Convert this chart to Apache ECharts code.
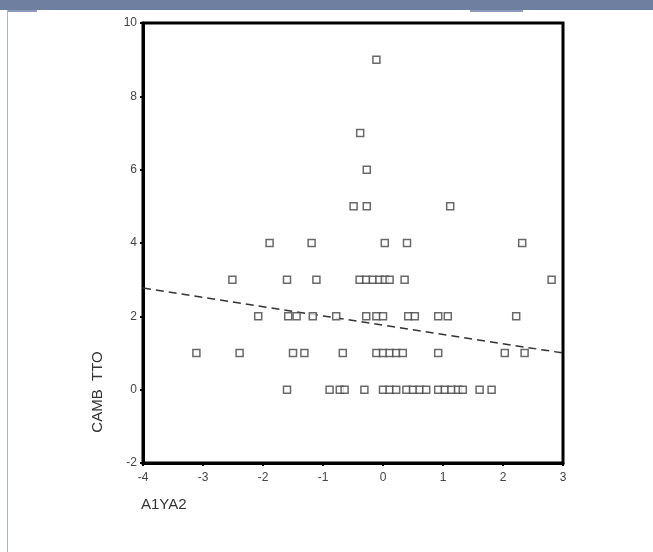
<!DOCTYPE html>
<html>
<head>
<meta charset="utf-8">
<script src="https://cdn.jsdelivr.net/npm/echarts@6/dist/echarts.min.js"></script>
<style>
  html, body { margin: 0; padding: 0; background: #fff; }
  #myChart { width: 653px; height: 552px; }
</style>
</head>
<body>
<div id="myChart"></div>
<script>
// x positions of the points, grouped by their (integer) CAMB TTO value
var xAtY0 = [-1.6, -0.89, -0.72, -0.64, -0.31, 0, 0.11, 0.22, 0.39, 0.5, 0.61, 0.72, 0.92, 1.03, 1.14, 1.25, 1.33, 1.61, 1.81];
var xAtY1 = [-3.11, -2.39, -1.5, -1.31, -0.67, -0.11, 0, 0.11, 0.22, 0.33, 0.92, 2.03, 2.36];
var xAtY2 = [-2.08, -1.58, -1.44, -1.17, -0.78, -0.28, -0.11, 0, 0.42, 0.53, 0.92, 1.08, 2.22];
var xAtY3 = [-2.51, -1.6, -1.11, -0.39, -0.28, -0.17, -0.06, 0.03, 0.11, 0.36, 2.81];
var xAtY4 = [-1.89, -1.19, 0.03, 0.4, 2.32];
var xAtY5 = [-0.49, -0.27, 1.12];
var xAtY6 = [-0.27];
var xAtY7 = [-0.38];
var xAtY9 = [-0.11];

// fitted line, read at both ends of the x axis
var fitX = [-4, 3];
var fitY = [2.77, 1.0];

var xTicks = [-4, -3, -2, -1, 0, 1, 2, 3];
var yTicks = [-2, 0, 2, 4, 6, 8, 10];

(function () {
    var rows = [[0, xAtY0], [1, xAtY1], [2, xAtY2], [3, xAtY3], [4, xAtY4],
                [5, xAtY5], [6, xAtY6], [7, xAtY7], [9, xAtY9]];
    var points = [];
    rows.forEach(function (r) {
        r[1].forEach(function (x) { points.push([x, r[0]]); });
    });

    var myChart = echarts.init(document.getElementById('myChart'), null, {renderer: 'canvas'});
    var axisFont = {fontFamily: 'Liberation Sans, Arial, sans-serif', fontSize: 12, color: '#444'};

    var option = {
        animation: false,
        backgroundColor: '#fff',
        grid: {
            left: 143, top: 23, width: 420, height: 440,
            show: true, borderColor: '#000', borderWidth: 3
        },
        xAxis: {
            type: 'value', min: xTicks[0], max: xTicks[xTicks.length - 1], interval: 1,
            splitLine: {show: false},
            axisLine: {show: true, onZero: false, lineStyle: {color: '#000', width: 3}},
            axisTick: {show: true, length: 3, lineStyle: {color: '#000', width: 2}},
            axisLabel: Object.assign({margin: 9}, axisFont)
        },
        yAxis: {
            type: 'value', min: yTicks[0], max: yTicks[yTicks.length - 1], interval: 2,
            splitLine: {show: false},
            axisLine: {show: true, onZero: false, lineStyle: {color: '#000', width: 3}},
            axisTick: {show: true, length: 3, lineStyle: {color: '#000', width: 2}},
            axisLabel: Object.assign({margin: 6}, axisFont)
        },
        series: [
            {
                type: 'scatter',
                data: points,
                symbol: 'rect',
                symbolSize: 7,
                itemStyle: {color: '#fff', borderColor: '#444', borderWidth: 1.5}
            },
            {
                type: 'line',
                data: [[fitX[0], fitY[0]], [fitX[1], fitY[1]]],
                symbol: 'none',
                z: 1,
                lineStyle: {color: '#333', width: 1.5, type: [8, 5]}
            }
        ],
        graphic: [
            {type: 'rect', shape: {x: 0, y: 0, width: 653, height: 10}, style: {fill: '#6e7fa0'}},
            {type: 'rect', shape: {x: 7, y: 10, width: 30, height: 2}, style: {fill: '#8d9bb8'}},
            {type: 'rect', shape: {x: 470, y: 10, width: 53, height: 2}, style: {fill: '#8d9bb8'}},
            {type: 'rect', shape: {x: 7, y: 10, width: 1, height: 542}, style: {fill: '#a9b5cc'}},
            {
                type: 'text', x: 98, y: 392, rotation: Math.PI / 2,
                style: {
                    text: 'CAMB  TTO', fill: '#333', align: 'center', verticalAlign: 'middle',
                    font: '15px Liberation Sans, Arial, sans-serif'
                }
            },
            {
                type: 'text', x: 141, y: 505,
                style: {
                    text: 'A1YA2', fill: '#333', align: 'left', verticalAlign: 'middle',
                    font: '15px Liberation Sans, Arial, sans-serif'
                }
            }
        ]
    };
    myChart.setOption(option);
})();
</script>
</body>
</html>
